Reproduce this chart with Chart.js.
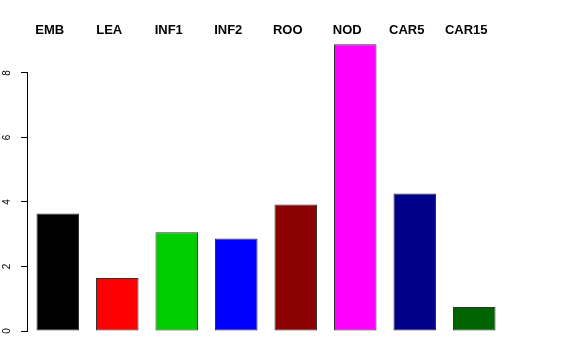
<!DOCTYPE html>
<html>
<head>
<meta charset="utf-8">
<script src="https://cdn.jsdelivr.net/npm/chart.js@4.4.1/dist/chart.umd.min.js"></script>
<style>
html,body{margin:0;padding:0;background:#fff;}
#wrap{width:576px;height:360px;}
</style>
</head>
<body>
<div id="wrap"><canvas id="c" width="576" height="360"></canvas></div>
<script>
const categories = ["EMB", "LEA", "INF1", "INF2", "ROO", "NOD", "CAR5", "CAR15"];
const values = [3.64, 1.64, 3.06, 2.87, 3.92, 8.89, 4.26, 0.74];
const barColors = ["#000000", "#FF0000", "#00CD00", "#0000FF", "#8B0000", "#FF00FF", "#00008B", "#006400"];
const yTicks = [0, 2, 4, 6, 8];

const axisDecor = {
  id: 'axisDecor',
  afterDraw(chart) {
    const y = chart.scales.y;
    const ctx = chart.ctx;
    const x = Math.round(chart.chartArea.left) - 0.5;
    ctx.save();
    ctx.strokeStyle = '#000';
    ctx.lineWidth = 1;
    ctx.beginPath();
    ctx.moveTo(x, y.getPixelForValue(yTicks[0]));
    ctx.lineTo(x, y.getPixelForValue(yTicks[yTicks.length - 1]));
    ctx.stroke();
    ctx.fillStyle = '#000';
    ctx.font = '10px "Liberation Sans"';
    ctx.textAlign = 'center';
    ctx.textBaseline = 'middle';
    y.ticks.forEach(t => {
      const py = y.getPixelForValue(t.value);
      ctx.save();
      ctx.translate(7, py);
      ctx.rotate(-Math.PI / 2);
      ctx.fillText(String(t.value), 0, 0);
      ctx.restore();
    });
    ctx.restore();
  }
};

new Chart(document.getElementById('c'), {
  type: 'bar',
  data: {
    labels: categories,
    datasets: [{
      data: values,
      backgroundColor: barColors,
      borderColor: '#333333',
      borderWidth: 1,
      borderSkipped: false,
      categoryPercentage: 1,
      barPercentage: 0.715
    }]
  },
  options: {
    responsive: false,
    animation: false,
    devicePixelRatio: 1,
    layout: { padding: { left: 0, right: 72, top: 21, bottom: 29 } },
    plugins: { legend: { display: false }, tooltip: { enabled: false } },
    scales: {
      x: {
        position: 'top',
        grid: { display: false, drawTicks: false },
        border: { display: false },
        ticks: {
          color: '#000',
          font: { family: 'Liberation Sans', size: 13, weight: 'bold' },
          padding: 2,
          labelOffset: -8,
          maxRotation: 0,
          autoSkip: false
        }
      },
      y: {
        min: 0,
        max: 9,
        afterFit: (s) => { s.width = 28; },
        afterBuildTicks: (s) => { s.ticks = yTicks.map(v => ({ value: v })); },
        grid: { drawOnChartArea: false, drawTicks: true, tickLength: 7, color: '#000', lineWidth: 1 },
        border: { display: false },
        ticks: { display: false }
      }
    }
  },
  plugins: [axisDecor]
});
</script>
</body>
</html>
